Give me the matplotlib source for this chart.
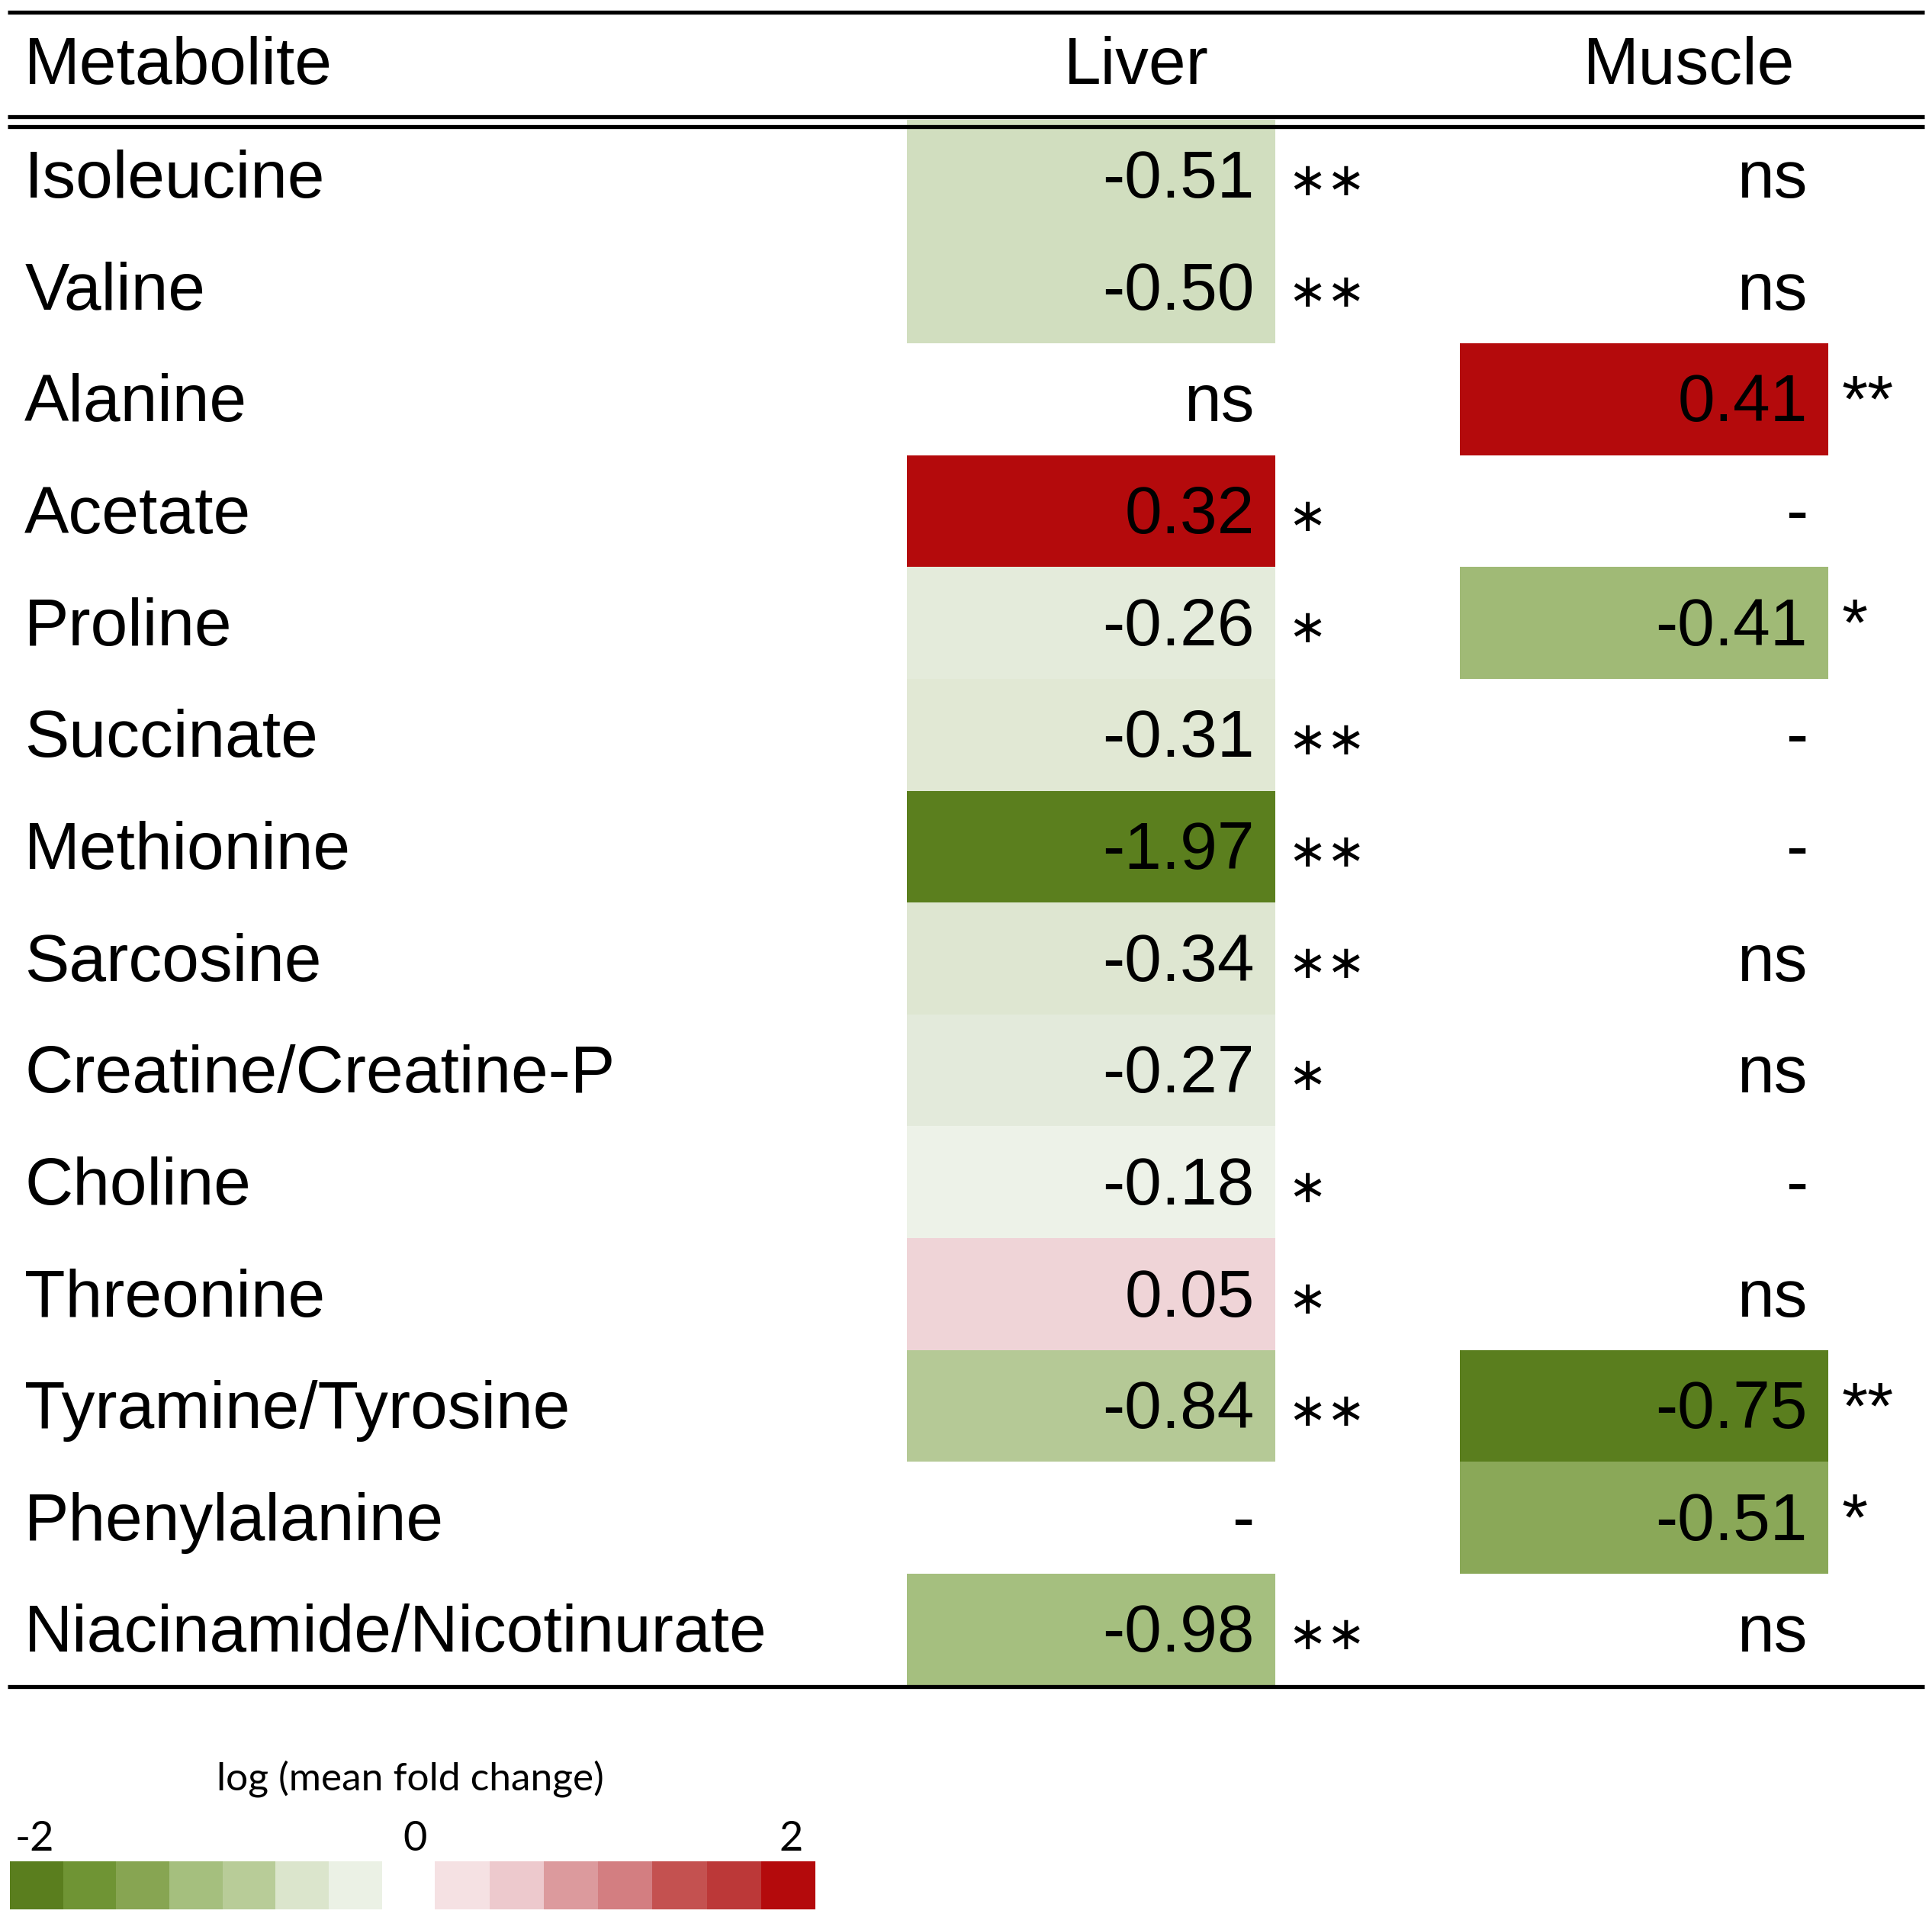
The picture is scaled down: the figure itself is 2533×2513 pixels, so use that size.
import matplotlib
matplotlib.use("Agg")
import matplotlib.pyplot as plt

# table data
metabolites = ["Isoleucine", "Valine", "Alanine", "Acetate", "Proline", "Succinate",
               "Methionine", "Sarcosine", "Creatine/Creatine-P", "Choline", "Threonine",
               "Tyramine/Tyrosine", "Phenylalanine", "Niacinamide/Nicotinurate"]
liver_vals = ["-0.51", "-0.50", "ns", "0.32", "-0.26", "-0.31", "-1.97", "-0.34",
              "-0.27", "-0.18", "0.05", "-0.84", "-", "-0.98"]
liver_sig = ["**", "**", "", "*", "*", "**", "**", "**", "*", "*", "*", "**", "", "**"]
muscle_vals = ["ns", "ns", "0.41", "-", "-0.41", "-", "-", "ns", "ns", "-", "ns",
               "-0.75", "-0.51", "ns"]
muscle_sig = ["", "", "**", "", "*", "", "", "", "", "", "", "**", "*", ""]

# cell fill colours (None = no fill)
liver_cols = ["#d1debf", "#d1debf", None, "#b40a0c", "#e4ebdb", "#e1e8d4", "#5b7f1e",
              "#dee6d1", "#e3eadb", "#edf2e8", "#efd4d7", "#b5c996", None, "#a5bf7f"]
muscle_cols = [None, None, "#b40a0c", None, "#a0ba76", None, None, None, None, None,
               None, "#5a7e1e", "#8aa858", None]

# legend
legend_title = "log (mean fold change)"
legend_ticks = ["-2", "0", "2"]
green_steps = ["#5a7e1e", "#6f9434", "#87a552", "#a5bf7e", "#b8cc98", "#dbe5cc", "#ebf1e5"]
red_steps = ["#f5e1e3", "#edc9cd", "#dc9a9d", "#d37e81", "#c45150", "#bc3838", "#b40a0c"]

W, H = 1568, 1556
fig = plt.figure(figsize=(25.33, 25.13), dpi=100)
ax = fig.add_axes([0, 0, 1, 1])
ax.set_xlim(0, W)
ax.set_ylim(H, 0)
ax.axis("off")

sans = "Liberation Sans"
fs = 63
top, row_h = 97, 90.8
n = len(metabolites)

# horizontal rules
ax.plot([6, 1562], [10, 10], color="black", lw=3.8, solid_capstyle="butt")
ax.plot([6, 1562], [95, 95], color="black", lw=3.8, solid_capstyle="butt")
ax.plot([6, 1562], [102.5, 102.5], color="black", lw=3.8, solid_capstyle="butt")
ax.plot([6, 1562], [top + n * row_h + 1, top + n * row_h + 1], color="black", lw=3.8,
        solid_capstyle="butt")

# header
ax.text(20, 68, "Metabolite", fontsize=63, family=sans, ha="left", va="baseline")
ax.text(922, 68, "Liver", fontsize=63, family=sans, ha="center", va="baseline")
ax.text(1371, 68, "Muscle", fontsize=63, family=sans, ha="center", va="baseline")

liver_x0, muscle_x0, cell_w = 736, 1185, 299
for i in range(n):
    y0 = top + i * row_h
    base = y0 + row_h / 2 + 18
    if liver_cols[i]:
        ax.bar(liver_x0, row_h, width=cell_w, bottom=y0, align="edge",
               color=liver_cols[i], zorder=0, lw=0)
    if muscle_cols[i]:
        ax.bar(muscle_x0, row_h, width=cell_w, bottom=y0, align="edge",
               color=muscle_cols[i], zorder=0, lw=0)
    ax.text(20, base, metabolites[i], fontsize=fs, family=sans, va="baseline")
    ax.text(1018, base, liver_vals[i], fontsize=fs, family=sans, ha="right", va="baseline")
    ax.text(1467, base, muscle_vals[i], fontsize=fs, family=sans, ha="right", va="baseline")
    if liver_sig[i]:
        ax.text(1045, base - 2, "\u2217" * len(liver_sig[i]), fontsize=44,
                family="DejaVu Sans", ha="left", va="baseline")
    if muscle_sig[i]:
        ax.text(1495, base, muscle_sig[i], fontsize=fs, family=sans, ha="left",
                va="baseline")

# legend
ax.text(333, 1453, legend_title, fontsize=37, family="Lato", ha="center", va="baseline")
for lbl, x in zip(legend_ticks, [28, 337, 642]):
    ax.text(x, 1502, lbl, fontsize=39, family="Lato", ha="center", va="baseline")
gw = (310 - 8) / len(green_steps)
for k, c in enumerate(green_steps):
    ax.bar(8 + k * gw, 39, width=gw, bottom=1511, align="edge", color=c, lw=0)
rw = (662 - 353) / len(red_steps)
for k, c in enumerate(red_steps):
    ax.bar(353 + k * rw, 39, width=rw, bottom=1511, align="edge", color=c, lw=0)

fig.savefig("out.png", dpi=100)
